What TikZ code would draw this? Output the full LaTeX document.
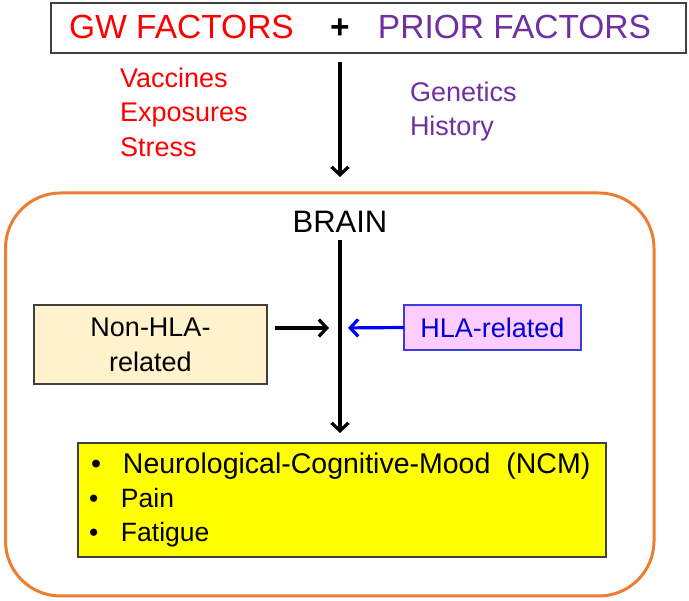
\documentclass[tikz,border=0pt]{standalone}
\usepackage{fontspec}
\setmainfont{Liberation Sans}
\usetikzlibrary{arrows.meta}
\definecolor{gwred}{RGB}{255,0,0}
\definecolor{priorpurple}{RGB}{112,48,160}
\definecolor{brainorange}{RGB}{237,125,49}
\definecolor{boxgray}{RGB}{64,64,64}
\definecolor{nonhlatan}{RGB}{255,242,204}
\definecolor{hlapink}{RGB}{255,204,255}
\definecolor{hlablue}{RGB}{60,60,230}
\definecolor{hlatext}{RGB}{0,0,215}
\definecolor{ncmyellow}{RGB}{255,255,0}
\newcommand{\factorsize}{\fontsize{33.5}{40}\selectfont}
\newcommand{\listsize}{\fontsize{27}{34}\selectfont}
\newcommand{\boxsize}{\fontsize{27}{35}\selectfont}
\newcommand{\brainsize}{\fontsize{31}{37}\selectfont}
\newcommand{\ncmsize}{\fontsize{26.5}{34}\selectfont}

\begin{document}
\begin{tikzpicture}[x=1pt, y=-1pt,
  every node/.style={inner sep=0pt, outer sep=0pt},
  box/.style={draw=boxgray, line width=1.5pt},
  arr/.style={line width=3.2pt, -{Straight Barb[length=8pt, width=17pt]}}]
\useasboundingbox (0,0) rectangle (689,601);

\node[box, line width=2pt, minimum width=635pt, minimum height=50pt] (factors) at (368.5,28) {};
\node[anchor=base, text=gwred, font=\factorsize] (gw) at (181.5,39) {GW FACTORS};
\node[anchor=base, font=\factorsize\bfseries] (plus) at (340,39) {+};
\node[anchor=base, text=priorpurple, font=\factorsize] (prior) at (514.5,39) {PRIOR FACTORS};

\node[anchor=base west, text=gwred, font=\listsize] (vacc) at (120,88) {Vaccines};
\node[anchor=base west, text=gwred, font=\listsize] (expo) at (120,122) {Exposures};
\node[anchor=base west, text=gwred, font=\listsize] (stress) at (120,157) {Stress};
\node[anchor=base west, text=priorpurple, font=\listsize] (genet) at (410,102) {Genetics};
\node[anchor=base west, text=priorpurple, font=\listsize] (hist) at (410,136) {History};

\node[draw=brainorange, line width=3pt, rounded corners=55pt, minimum width=648.5pt, minimum height=403pt] (brainbox) at (329.75,394.5) {};
\node[anchor=base, font=\brainsize] (brain) at (340,233) {BRAIN};

\node[box, fill=nonhlatan, minimum width=233pt, minimum height=79pt, align=center, font=\boxsize] (nonhla) at (150.5,344.5) {Non-HLA-\\related};
\node[draw=hlablue, line width=1.2pt, fill=hlapink, text=hlatext, minimum width=177pt, minimum height=45pt, font=\boxsize] (hla) at (492.5,327.5) {HLA-related};
\coordinate (join) at (340,328);

\node[box, fill=ncmyellow, minimum width=528pt, minimum height=114pt] (ncm) at (342,500) {};
\node[anchor=base west, font=\fontsize{28.5}{34}\selectfont] (ncm1) at (91,474) {\makebox[32pt][l]{\textbullet}Neurological-Cognitive-Mood\hspace{16pt}(NCM)};
\node[anchor=base west, font=\ncmsize] (ncm2) at (89,508) {\makebox[32pt][l]{\textbullet}Pain};
\node[anchor=base west, font=\ncmsize] (ncm3) at (89,542) {\makebox[32pt][l]{\textbullet}Fatigue};

\draw[arr, shorten <=9pt, shorten >=16pt] (brain |- factors.south) -- (brain |- brainbox.north);
\draw[arr, shorten <=7pt, shorten >=10pt] (brain.south) -- (ncm.north -| brain);
\draw[arr, shorten <=8pt, shorten >=11pt] (nonhla.east |- join) -- (join);
\draw[arr, draw=blue, shorten >=8pt] (hla.west) -- (join);
\end{tikzpicture}
\end{document}
